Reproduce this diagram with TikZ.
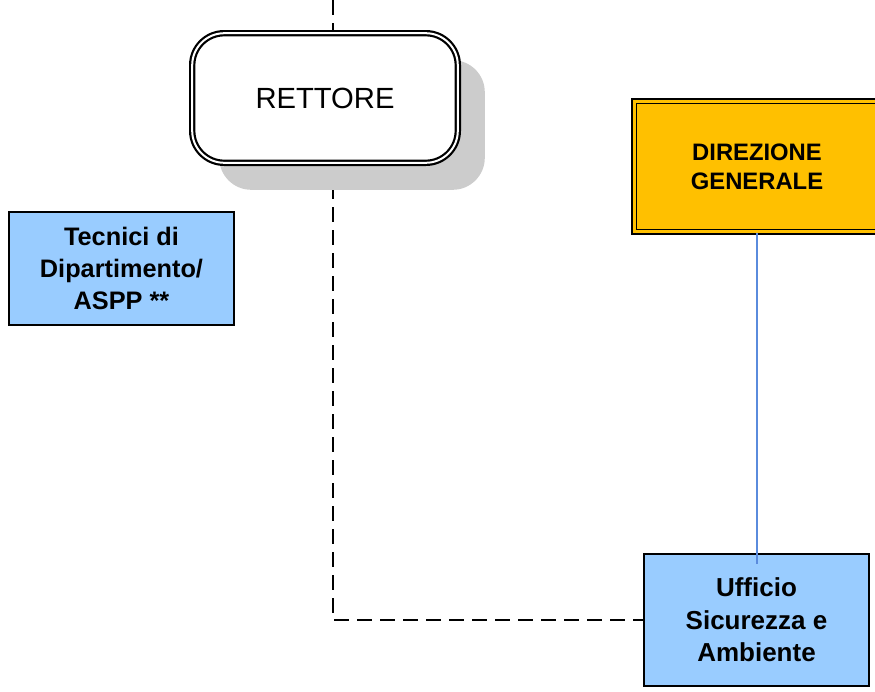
\documentclass[tikz,border=0pt]{standalone}
\usepackage{fontspec}
\setmainfont{Liberation Sans}
\usetikzlibrary{positioning,shadows,backgrounds}
\definecolor{boxblue}{HTML}{99CCFF}
\definecolor{dirorange}{HTML}{FFC000}
\definecolor{shadowgray}{HTML}{CCCCCC}
\definecolor{linkblue}{HTML}{5A8BDD}
\tikzstyle{office} = [draw=black, line width=2pt, fill=boxblue, inner sep=0pt, align=center, font=\fontsize{26}{32.5}\selectfont\bfseries]
\tikzstyle{link} = [line width=1.7pt, black, dash pattern=on 14.5pt off 8.5pt]

\begin{document}
\begin{tikzpicture}[x=1pt,y=-1pt]
\useasboundingbox (0,0) rectangle (875,691);
\node[draw=black, line width=2.2pt, double=white, double distance=2pt, rounded corners=32pt, fill=white, minimum width=265.6pt, minimum height=129.6pt, drop shadow={shadow xshift=27pt, shadow yshift=-27pt, fill=shadowgray, opacity=1}, font=\fontsize{29.2}{34}\selectfont] (rettore) at (325,98) {RETTORE};
\node[draw=black, line width=1.7pt, double=dirorange, double distance=3pt, fill=dirorange, minimum width=245.6pt, minimum height=130.6pt, align=center, font=\fontsize{23.8}{28.7}\selectfont\bfseries] (direzione) at (757,166.5) {DIREZIONE\\GENERALE};
\node[office, minimum width=225pt, minimum height=113pt, font=\fontsize{25.3}{32}\selectfont\bfseries] (tecnici) at (121.5,268.5) {Tecnici di\\Dipartimento/\\ASPP **};
\node[office, minimum width=225pt, minimum height=132pt] (ufficio) at (756.5,620) {Ufficio\\Sicurezza e\\Ambiente};
\coordinate (top) at (333,0);
\begin{scope}[on background layer]
\draw[link] (top) -- (top |- rettore.south) |- (ufficio.west);
\end{scope}
\draw[linkblue, line width=1.3pt] (direzione.south) -- ([yshift=-11pt]direzione.south |- ufficio.north);
\end{tikzpicture}
\end{document}
